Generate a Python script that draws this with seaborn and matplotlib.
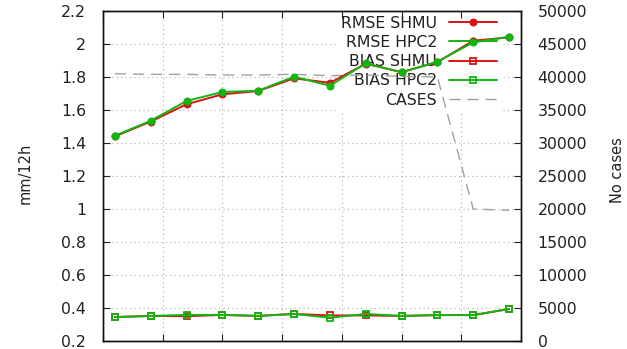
import matplotlib
matplotlib.use("Agg")
import matplotlib.pyplot as plt
import seaborn as sns
from matplotlib.ticker import FuncFormatter

# data
lead = [6, 9, 12, 15, 18, 21, 24, 27, 30, 33, 36, 39]
rmse_shmu = [1.44, 1.53, 1.635, 1.695, 1.715, 1.792, 1.765, 1.88, 1.83, 1.89, 2.02, 2.04]
rmse_hpc2 = [1.444, 1.535, 1.655, 1.709, 1.717, 1.802, 1.747, 1.883, 1.828, 1.893, 2.01, 2.044]
bias_shmu = [0.345, 0.352, 0.35, 0.358, 0.352, 0.364, 0.355, 0.355, 0.352, 0.357, 0.357, 0.394]
bias_hpc2 = [0.345, 0.352, 0.358, 0.358, 0.352, 0.364, 0.341, 0.364, 0.352, 0.357, 0.357, 0.394]
cases = [40500, 40400, 40400, 40300, 40300, 40400, 40200, 40300, 40100, 40000, 20000, 19800]

red = "#dd1111"
green = "#11b511"
gray = "#a0a0a0"

sns.set_theme(style="white")
plt.rcParams["font.family"] = ["DejaVu Sans"]
plt.rcParams["text.color"] = "#222222"
plt.rcParams["xtick.color"] = "#222222"
plt.rcParams["ytick.color"] = "#222222"

fig = plt.figure(figsize=(6.27, 3.49), dpi=100)
ax = fig.add_axes([103 / 627, 8 / 349, 418 / 627, 330 / 349])
ax2 = ax.twinx()
ax.set_zorder(2)
ax2.set_zorder(1)
ax.patch.set_visible(False)

sns.lineplot(x=lead, y=rmse_shmu, ax=ax, color=red, lw=1.4, marker="o", ms=5,
             mec=red, label="RMSE SHMU")
sns.lineplot(x=lead, y=rmse_hpc2, ax=ax, color=green, lw=1.4, marker="o", ms=5,
             mec=green, label="RMSE HPC2")
sns.lineplot(x=lead, y=bias_shmu, ax=ax, color=red, lw=1.4, marker="s", ms=5,
             mfc="none", mec=red, mew=1.3, label="BIAS SHMU")
sns.lineplot(x=lead, y=bias_hpc2, ax=ax, color=green, lw=1.4, marker="s", ms=5,
             mfc="none", mec=green, mew=1.3, label="BIAS HPC2")
sns.lineplot(x=lead, y=cases, ax=ax2, color=gray, lw=1.0, ls=(0, (8, 5)),
             label="CASES")

h1, l1 = ax.get_legend_handles_labels()
h2, l2 = ax2.get_legend_handles_labels()
if ax.get_legend():
    ax.get_legend().remove()
if ax2.get_legend():
    ax2.get_legend().remove()

ax.set_xlim(5, 40)
ax.set_xticks(range(5, 41, 5))
ax.set_ylim(0.2, 2.2)
ax.set_yticks([0.2 + 0.2 * i for i in range(11)])
ax.yaxis.set_major_formatter(FuncFormatter(lambda v, p: "%g" % round(v, 2)))
ax2.set_ylim(0, 50000)
ax2.set_yticks(range(0, 50001, 5000))

ax.tick_params(axis="both", direction="in", length=5, width=0.8, labelsize=11.3,
               top=True, bottom=True, labelbottom=False, pad=12)
ax.tick_params(axis="y", right=False)
ax2.tick_params(axis="y", direction="in", length=5, width=0.8, labelsize=11.3, pad=12)

# grid on the lower axes so the legend can hide it
ax2.xaxis.set_visible(True)
ax2.tick_params(axis="x", bottom=False, top=False, labelbottom=False, labeltop=False)
ax2.grid(True, color="#b0b0b0", ls=(0, (1, 3)), lw=0.8)
ax.grid(False)

for a in (ax, ax2):
    for s in a.spines.values():
        s.set_color("#111111")
        s.set_linewidth(1.0)

fig.text(25 / 627, 1 - 173 / 349, "mm/12h", rotation=90, ha="center", va="center",
         fontsize=10.5)
fig.text(617 / 627, 1 - 170 / 349, "No cases", rotation=90, ha="center", va="center",
         fontsize=10.5)

leg = ax2.legend(h1 + h2, l1 + l2, loc="upper right", bbox_to_anchor=(0.955, 1.0),
                 fontsize=11.3, markerfirst=False, frameon=True, framealpha=1,
                 facecolor="white", edgecolor="white", fancybox=False,
                 handlelength=3.1, handletextpad=0.75, labelspacing=0.27,
                 borderpad=0.2, borderaxespad=0.1)
leg.set_zorder(1)

fig.savefig("out.png", dpi=100)
